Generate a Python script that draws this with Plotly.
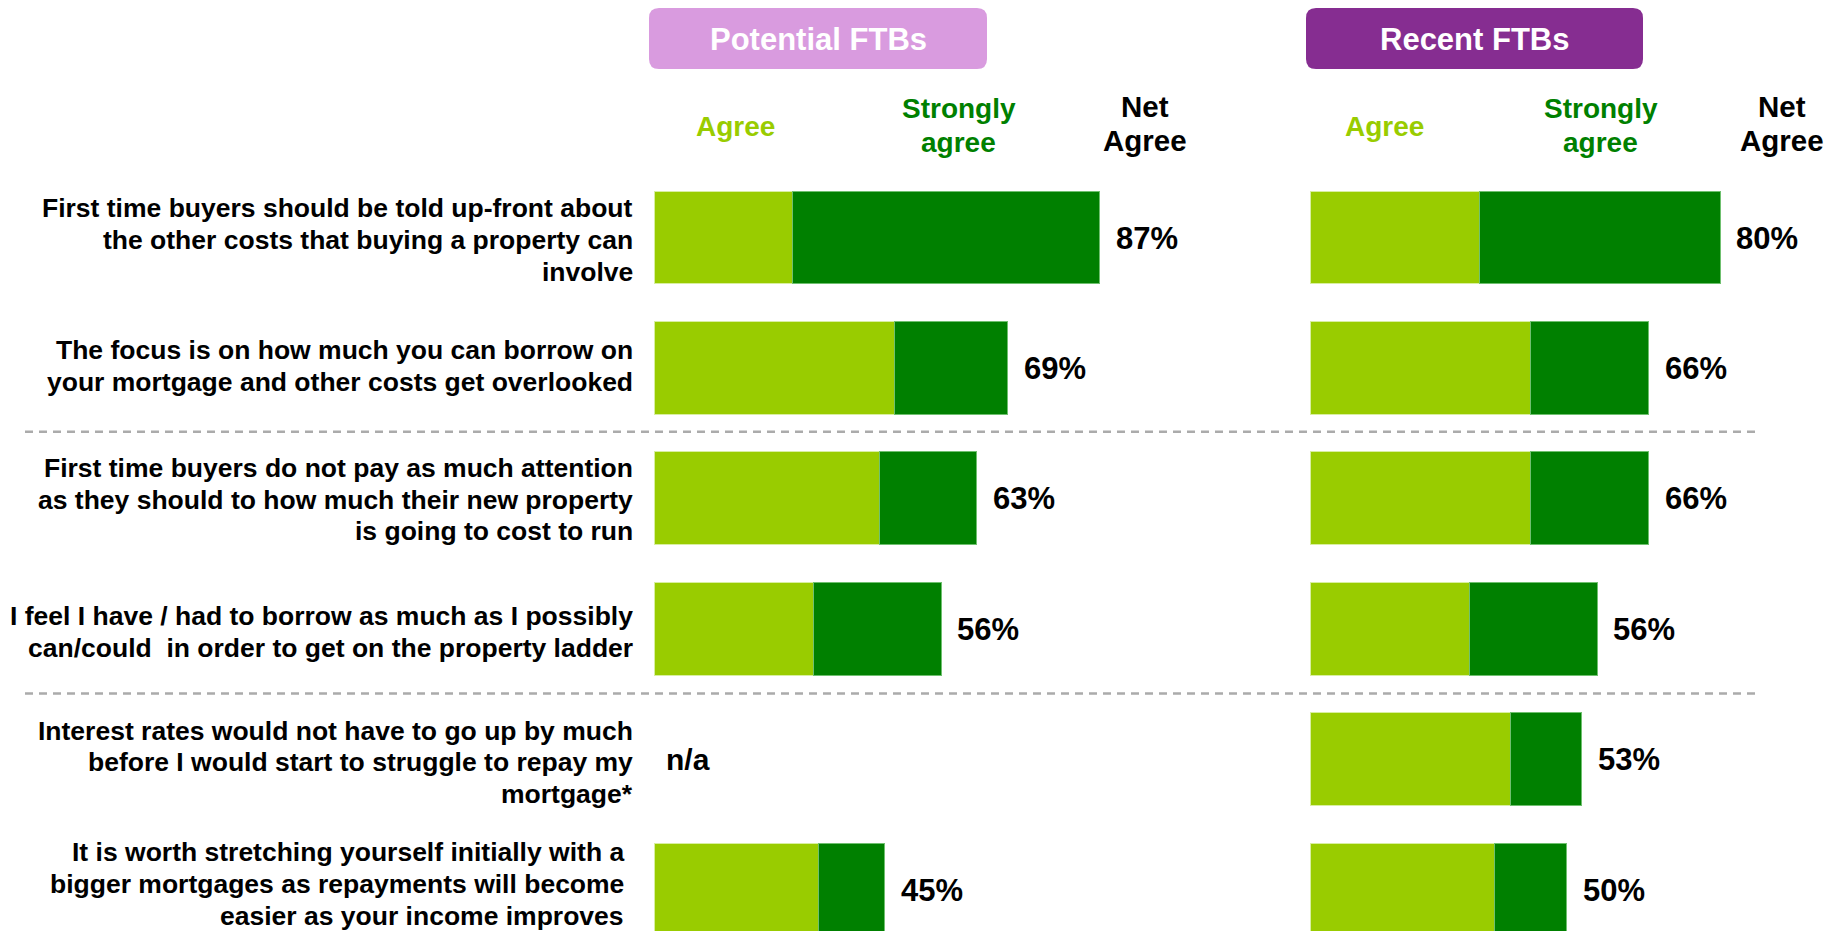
import plotly.graph_objects as go

# ---- data -------------------------------------------------------------
statements = [
    "First time buyers should be told up-front about<br>the other costs that buying a property can<br>involve",
    "The focus is on how much you can borrow on<br>your mortgage and other costs get overlooked",
    "First time buyers do not pay as much attention<br>as they should to how much their new property<br>is going to cost to run",
    "I feel I have / had to borrow as much as I possibly<br>can/could  in order to get on the property ladder",
    "Interest rates would not have to go up by much<br>before I would start to struggle to repay my<br>mortgage*",
    "It is worth stretching yourself initially with a<br>bigger mortgages as repayments will become<br>easier as your income improves",
]

# Potential FTBs (None = not asked)
potential_agree = [27, 47, 44, 31, None, 32]
potential_strongly = [60, 22, 19, 25, None, 13]
potential_net = [87, 69, 63, 56, None, 45]

# Recent FTBs
recent_agree = [33, 43, 43, 31, 39, 36]
recent_strongly = [47, 23, 23, 25, 14, 14]
recent_net = [80, 66, 66, 56, 53, 50]

groups = ["Potential FTBs", "Recent FTBs"]
col_headers = ["Agree", "Strongly agree", "Net Agree"]

# ---- styling ----------------------------------------------------------
W, H = 1843, 931
FONT = "Liberation Sans, Arial, sans-serif"
C_AGREE = "#99CC00"
C_STRONG = "#008000"
C_POT = "#D99BDF"
C_REC = "#862D91"

ROW0_Y = 238.0      # pixel centre of first row
ROW_STEP = 130.4    # pixel distance between rows
PX_PER_PCT = 5.12   # horizontal pixels per percentage point
LEFT_ZERO = 654.7   # pixel x of 0% in the left panel
RIGHT_ZERO = 1310.6 # pixel x of 0% in the right panel
LINE_STEP = 31.7    # line pitch of the statement labels


def px(x):
    return x / W


def py(y):
    return 1 - y / H


rows = list(range(len(statements)))

fig = go.Figure()


def add_panel(agree, strongly, xa):
    fig.add_trace(go.Bar(
        y=rows, x=agree, orientation="h", xaxis=xa, yaxis="y",
        marker=dict(color=C_AGREE, line=dict(color="#D8EFA0", width=1)),
        width=0.712, showlegend=False, hoverinfo="skip",
    ))
    fig.add_trace(go.Bar(
        y=rows, x=strongly, orientation="h", xaxis=xa, yaxis="y",
        marker=dict(color=C_STRONG, line=dict(color="#6FC06F", width=1)),
        width=0.712, showlegend=False, hoverinfo="skip",
    ))


add_panel(potential_agree, potential_strongly, "x")
add_panel(recent_agree, recent_strongly, "x2")

# axis ranges derived from pixel geometry
dom1 = [0.30, 0.68]
dom2 = [0.69, 1.00]


def xrange(dom, zero):
    return [(dom[0] * W - zero) / PX_PER_PCT, (dom[1] * W - zero) / PX_PER_PCT]


yr = [(H - ROW0_Y) / ROW_STEP, -ROW0_Y / ROW_STEP]

fig.update_layout(
    width=W, height=H,
    margin=dict(l=0, r=0, t=0, b=0),
    paper_bgcolor="white", plot_bgcolor="white",
    barmode="stack", bargap=0,
    xaxis=dict(domain=dom1, range=xrange(dom1, LEFT_ZERO), visible=False, anchor="y"),
    xaxis2=dict(domain=dom2, range=xrange(dom2, RIGHT_ZERO), visible=False, anchor="y"),
    yaxis=dict(domain=[0, 1], range=yr, visible=False, anchor="x"),
    font=dict(family=FONT),
)

ann = []

# statement labels, one annotation per line for a tight line pitch
label_right = [633.5, 633.5, 633.5, 633.5, 633.5, 625]
label_shift = [-1.8, 2.3, -0.7, -2.6, -2.7, 6.0]   # fine vertical offsets (px, up)
for i, s in enumerate(statements):
    lines = s.split("<br>")
    n = len(lines)
    for k, line in enumerate(lines):
        ann.append(dict(
            text=line, xref="paper", yref="y", x=px(label_right[i]), y=i,
            yshift=((n - 1) / 2 - k) * LINE_STEP + label_shift[i],
            xanchor="right", yanchor="middle", align="right", showarrow=False,
            borderpad=0,
            font=dict(size=26.5, color="black", family=FONT, weight="bold"),
        ))

# net agree values
for xa, nets in (("x", potential_net), ("x2", recent_net)):
    for i, v in enumerate(nets):
        if v is None:
            continue
        ann.append(dict(
            text=f"{v}%", xref=xa, yref="y", x=v, y=i, xshift=14,
            xanchor="left", yanchor="middle", showarrow=False,
            font=dict(size=31, color="black", family=FONT, weight="bold"),
        ))

# n/a marker for the question not asked of potential buyers
for i, v in enumerate(potential_net):
    if v is None:
        ann.append(dict(
            text="n/a", xref="paper", yref="y", x=px(664), y=i,
            xanchor="left", yanchor="middle", showarrow=False,
            font=dict(size=30, color="black", family=FONT, weight="bold"),
        ))

# group header boxes


def rounded_box(x0, y0, x1, y1, r):
    X0, X1 = px(x0), px(x1)
    Y0, Y1 = py(y0), py(y1)
    rx, ry = r / W, r / H
    return (f"M {X0+rx},{Y0} L {X1-rx},{Y0} Q {X1},{Y0} {X1},{Y0-ry} "
            f"L {X1},{Y1+ry} Q {X1},{Y1} {X1-rx},{Y1} "
            f"L {X0+rx},{Y1} Q {X0},{Y1} {X0},{Y1+ry} "
            f"L {X0},{Y0-ry} Q {X0},{Y0} {X0+rx},{Y0} Z")


shapes = []
boxes = [(649, 987, C_POT), (1306, 1643, C_REC)]
for (x0, x1, col), g in zip(boxes, groups):
    shapes.append(dict(type="path", xref="paper", yref="paper",
                       path=rounded_box(x0, 8, x1, 69, 10),
                       fillcolor=col, line=dict(width=0), layer="below"))
    ann.append(dict(
        text=g, xref="paper", yref="paper", x=px((x0 + x1) / 2), y=py(40),
        xanchor="center", yanchor="middle", showarrow=False,
        font=dict(size=31, color="white", family=FONT, weight="bold"),
    ))

# column headers
for cx_agree, cx_strong, cx_net in ((735.8, 959.0, 1144.8), (1384.6, 1600.9, 1782.0)):
    ann.append(dict(text=col_headers[0], xref="paper", yref="paper",
                    x=px(cx_agree), y=py(126), xanchor="center", yanchor="middle",
                    showarrow=False,
                    font=dict(size=28, color=C_AGREE, family=FONT, weight="bold")))
    sa_words = col_headers[1].split(" ")
    for word, yy in zip(sa_words, (108, 143)):
        ann.append(dict(text=word, xref="paper", yref="paper",
                        x=px(cx_strong), y=py(yy), xanchor="center", yanchor="middle",
                        showarrow=False,
                        font=dict(size=28, color=C_STRONG, family=FONT, weight="bold")))
    na_words = col_headers[2].split(" ")
    for word, yy in zip(na_words, (106, 140)):
        ann.append(dict(text=word, xref="paper", yref="paper",
                        x=px(cx_net), y=py(yy), xanchor="center", yanchor="middle",
                        showarrow=False, borderpad=0,
                        font=dict(size=29.5, color="black", family=FONT, weight="bold")))

# dashed separators between question groups
for yy in (431.7, 693.5):
    shapes.append(dict(type="line", xref="paper", yref="paper",
                       x0=px(25), x1=px(1756), y0=py(yy), y1=py(yy),
                       line=dict(color="#ABABAB", width=2.5, dash="8px,6px")))

fig.update_layout(annotations=ann, shapes=shapes)

fig.write_html("out.html")
